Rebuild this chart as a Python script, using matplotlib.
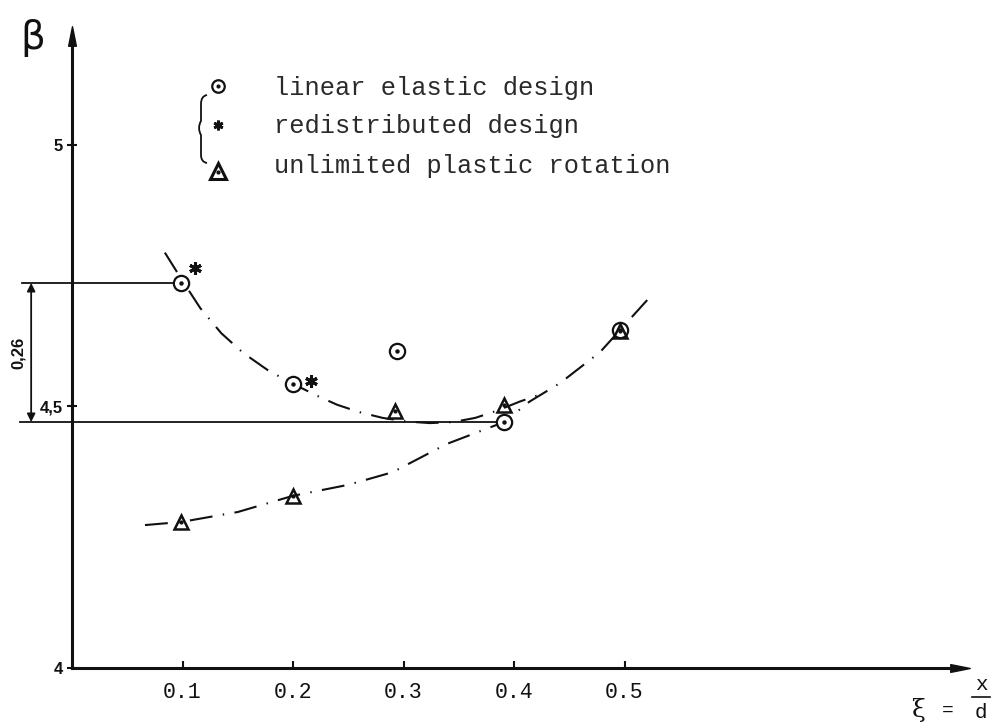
import matplotlib
matplotlib.use('Agg')
import matplotlib.pyplot as plt
from matplotlib.path import Path
from matplotlib.patches import PathPatch

# ---------------- data ----------------
xi_elastic = [0.099, 0.200, 0.294, 0.391, 0.496]
beta_elastic = [4.736, 4.543, 4.606, 4.470, 4.646]

xi_redist = [0.111, 0.216]
beta_redist = [4.765, 4.549]

xi_plastic = [0.099, 0.200, 0.292, 0.391, 0.496]
beta_plastic = [4.279, 4.329, 4.491, 4.503, 4.644]

# dash-dot trend curves
curve1_xi = [0.084, 0.100, 0.116, 0.135, 0.155, 0.178, 0.202, 0.222, 0.240, 0.260,
             0.281, 0.303, 0.324, 0.345, 0.365, 0.385, 0.405, 0.428]
curve1_beta = [4.794, 4.740, 4.688, 4.640, 4.602, 4.568, 4.541, 4.520, 4.503, 4.489,
               4.478, 4.471, 4.468, 4.470, 4.478, 4.492, 4.509, 4.526]

curve2_xi = [0.066, 0.099, 0.150, 0.200, 0.250, 0.290, 0.339, 0.391, 0.414,
             0.442, 0.478, 0.496, 0.523]
curve2_beta = [4.273, 4.279, 4.298, 4.329, 4.350, 4.374, 4.428, 4.470, 4.509,
               4.545, 4.604, 4.646, 4.709]

x_ticks = [0.1, 0.2, 0.3, 0.4, 0.5]
x_tick_labels = ['0.1', '0.2', '0.3', '0.4', '0.5']
y_ticks = [4.0, 4.5, 5.0]
y_tick_labels = ['4', '4,5', '5']

legend_labels = ['linear elastic design', 'redistributed design',
                 'unlimited plastic rotation']
diff_label = '0,26'

# ---------------- figure ----------------
W, H = 992, 728
fig = plt.figure(figsize=(W / 100, H / 100), dpi=100)
ax = fig.add_axes([0, 0, 1, 1])
ax.set_xlim(-0.0652, 0.8326)
ax.set_ylim(3.885, 5.277)
ax.patch.set_alpha(0)

def P(px, py):
    return (px / W, 1 - py / H)

mono = 'Liberation Mono'
ink = '#111111'

# axes (spines through origin)
for s in ['top', 'right']:
    ax.spines[s].set_visible(False)
ax.spines['left'].set_position(('data', 0))
ax.spines['bottom'].set_position(('data', 4))
ax.spines['left'].set_bounds(4, 5.19)
ax.spines['bottom'].set_bounds(0, 0.80)
for s in ['left', 'bottom']:
    ax.spines[s].set_linewidth(2.2)
    ax.spines[s].set_color(ink)

up = Path([(-0.4, -1), (0, 1), (0.4, -1), (-0.4, -1)],
          [Path.MOVETO, Path.LINETO, Path.LINETO, Path.CLOSEPOLY])
right = Path([(-1, -0.4), (1, 0), (-1, 0.4), (-1, -0.4)],
             [Path.MOVETO, Path.LINETO, Path.LINETO, Path.CLOSEPOLY])
ax.plot([0], [5.208], marker=up, ms=14, color=ink, clip_on=False)
ax.plot([0.804], [4], marker=right, ms=14, color=ink, clip_on=False)

ax.set_xticks(x_ticks)
ax.set_xticklabels(x_tick_labels, fontfamily=mono, fontsize=15.5, color='#222222')
ax.tick_params(axis='x', direction='in', length=5, width=1.5, pad=10, colors=ink)
ax.set_yticks(y_ticks)
ax.set_yticklabels(y_tick_labels, fontfamily='Liberation Sans', fontweight='bold', fontsize=12)
ax.tick_params(axis='y', direction='inout', length=7, width=1.5, pad=3, colors=ink)

# axis labels
fig.text(*P(33, 38), 'β', fontsize=28, ha='center', va='center', color=ink,
         fontfamily='DejaVu Sans')
fig.text(*P(919, 710), 'ξ', fontsize=18, ha='center', va='center', color=ink,
         fontfamily='DejaVu Serif')
fig.text(*P(948, 710), '=', fontsize=14, ha='center', va='center', color=ink,
         fontfamily=mono)
fig.text(*P(981, 684), 'x', fontsize=15, ha='center', va='center', color=ink,
         fontfamily=mono)
fig.text(*P(981, 712), 'd', fontsize=15, ha='center', va='center', color=ink,
         fontfamily=mono)
fig.add_artist(plt.Line2D([972 / W, 990 / W], [1 - 697 / H, 1 - 697 / H],
                          color=ink, lw=1.2))

# trend curves
dd = (0, (11, 5, 0.7, 5))
ax.plot(curve1_xi, curve1_beta, color=ink, lw=1.5, linestyle=dd)
ax.plot(curve2_xi, curve2_beta, color=ink, lw=1.5, linestyle=dd)

# reference lines and dimension
ax.plot([-0.045, xi_elastic[0]], [beta_elastic[0]] * 2, color=ink, lw=1.3)
ax.plot([-0.047, xi_elastic[3]], [beta_elastic[3]] * 2, color=ink, lw=1.3)
ax.annotate('', xy=(-0.037, beta_elastic[0]), xytext=(-0.037, beta_elastic[3]),
            arrowprops=dict(arrowstyle='<|-|>', color=ink, lw=1.3,
                            mutation_scale=12, shrinkA=0, shrinkB=0))
ax.text(-0.049, (beta_elastic[0] + beta_elastic[3]) / 2, diff_label, rotation=90,
        ha='center', va='center', fontsize=12, fontweight='bold',
        fontfamily='Liberation Sans', color=ink)

# markers
ax.plot(xi_elastic, beta_elastic, linestyle='none', marker='o', ms=11,
        mfc='white', mec=ink, mew=1.6, zorder=5)
ax.plot(xi_elastic, beta_elastic, linestyle='none', marker='o', ms=2.2,
        color=ink, zorder=6)
ax.plot(xi_plastic, beta_plastic, linestyle='none', marker='^', ms=10,
        mfc='none', mec=ink, mew=1.8, zorder=7)
ax.plot(xi_plastic, beta_plastic, linestyle='none', marker='o', ms=2.0,
        color=ink, zorder=7)
ax.plot(xi_redist, beta_redist, linestyle='none', marker=(6, 2, 0), ms=9,
        mec=ink, mew=2.2, zorder=6)

# legend (manual)
lx = 218 / W
ly = [1 - 86 / H, 1 - 125 / H, 1 - 172 / H]
fig.add_artist(plt.Line2D([lx], [ly[0]], marker='o', ms=9, mfc='white',
                          mec=ink, mew=1.6, linestyle='none'))
fig.add_artist(plt.Line2D([lx], [ly[0]], marker='o', ms=2, color=ink,
                          linestyle='none'))
fig.add_artist(plt.Line2D([lx], [ly[1]], marker=(6, 2, 0), ms=7, mec=ink,
                          mew=2.0, linestyle='none'))
fig.add_artist(plt.Line2D([lx], [ly[2] + 0.002], marker='^', ms=11, mfc='none',
                          mec=ink, mew=2.2, linestyle='none'))
fig.add_artist(plt.Line2D([lx], [ly[2]], marker='o', ms=2, color=ink,
                          linestyle='none'))
text_y = [88, 126, 166]
for lab, ty in zip(legend_labels, text_y):
    fig.text(274 / W, 1 - ty / H, lab, fontsize=18.3, fontfamily=mono,
             ha='left', va='center', color='#2a2a2a')

# thin hand-drawn brace
bv = [P(207, 95), P(202, 97), P(202, 104), P(202, 121), P(197, 128),
      P(202, 135), P(202, 155), P(202, 161), P(207, 163)]
bc = [Path.MOVETO, Path.CURVE3, Path.CURVE3, Path.LINETO, Path.CURVE3,
      Path.CURVE3, Path.LINETO, Path.CURVE3, Path.CURVE3]
bv2 = [P(207, 95), P(201, 96), P(201, 104), P(201, 121), P(197, 128),
       P(201, 135), P(201, 155), P(201, 162), P(207, 163)]
fig.add_artist(PathPatch(Path(bv2, bc), fill=False, edgecolor=ink, lw=1.3,
                         transform=fig.transFigure))

fig.savefig('out.png', dpi=100, facecolor='white')
